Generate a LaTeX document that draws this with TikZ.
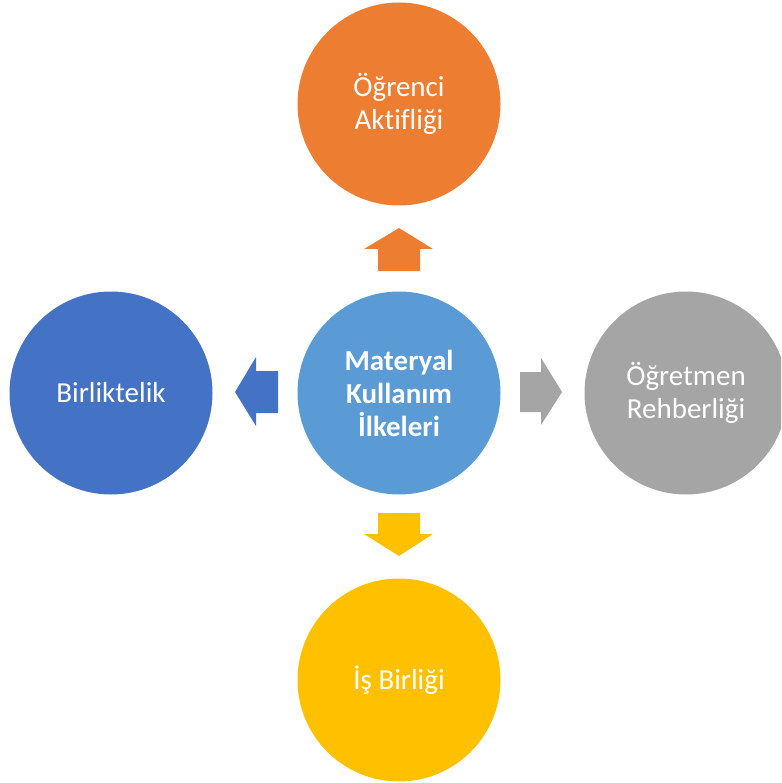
\documentclass[tikz,border=0pt]{standalone}
\usepackage{fontspec}
\setmainfont[Ligatures=NoCommon]{Carlito}
\definecolor{corange}{HTML}{ED7D31}
\definecolor{cblue}{HTML}{5B9BD5}
\definecolor{cdblue}{HTML}{4472C4}
\definecolor{cgray}{HTML}{A5A5A5}
\definecolor{cgold}{HTML}{FFC000}
\begin{document}
\begin{tikzpicture}[x=1pt,y=-1pt,
  bubble/.style={circle,minimum size=203pt,inner sep=0pt,text=white,align=center,
    font=\fontsize{29}{33}\selectfont}]
\useasboundingbox (0,0) rectangle (781,783);
\clip (0,0) rectangle (781,783);
\node[bubble,fill=cblue,font=\fontsize{29}{33}\selectfont\bfseries] (c) at (399,393) {Materyal\\Kullanım\\İlkeleri};
\node[bubble,fill=corange] (t) at (399,104) {Öğrenci\\Aktifliği};
\node[bubble,fill=cgray] (r) at (686,393) {Öğretmen\\Rehberliği};
\node[bubble,fill=cgold] (b) at (399,680) {İş Birliği};
\node[bubble,fill=cdblue] (l) at (111,393) {Birliktelik};
% up arrow
\fill[corange] (378,271) -- (378,249) -- (364,249) -- (399,228) -- (433,249) -- (420,249) -- (420,271) -- cycle;
% down arrow
\fill[cgold] (378,513) -- (378,534) -- (364,534) -- (399,556) -- (433,534) -- (420,534) -- (420,513) -- cycle;
% left arrow
\fill[cdblue] (278,371) -- (256,371) -- (256,357) -- (235,392) -- (256,426) -- (256,413) -- (278,413) -- cycle;
% right arrow
\fill[cgray] (520,372) -- (541,372) -- (541,358) -- (562,392) -- (541,425) -- (541,412) -- (520,412) -- cycle;
\end{tikzpicture}
\end{document}
